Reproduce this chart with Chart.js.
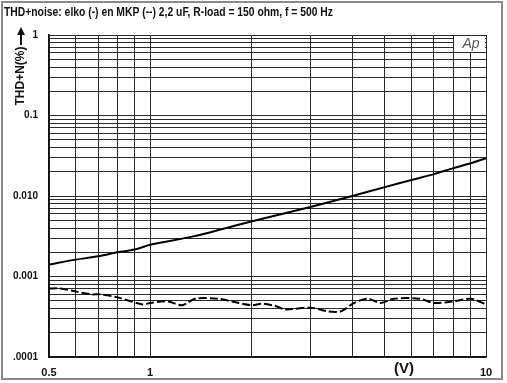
<!DOCTYPE html>
<html><head><meta charset="utf-8">
<script src="https://cdn.jsdelivr.net/npm/chart.js@4"></script>
<style>html,body{margin:0;padding:0;background:#fff}#wrap{width:507px;height:383px;position:relative}</style>
</head><body><div id="wrap"><canvas id="c" width="507" height="383"></canvas></div>
<script>
const titleText = 'THD+noise: elko (-) en MKP (--) 2,2 uF, R-load = 150 ohm, f = 500 Hz';
const yAxisTitle = 'THD+N(%)';
const xAxisTitle = '(V)';
const cornerMark = 'Ap';

// elko (solid)
const elkoVolts = [0.5, 0.6, 0.7, 0.8, 0.9, 1.0, 1.345, 2, 3, 4, 5, 6, 7, 8, 9, 10];
const elkoThd   = [0.00141, 0.00162, 0.00178, 0.00200, 0.00216, 0.00248, 0.00315, 0.00482, 0.00731, 0.0100, 0.0129, 0.0158, 0.0187, 0.0222, 0.0255, 0.0295];

// MKP (dashed)
const mkpVolts = [0.5, 0.54, 0.6, 0.67, 0.71, 0.8, 0.95, 1.0, 1.13, 1.245, 1.364, 1.6, 1.755, 2.0, 2.16, 2.36, 2.53, 3.0, 3.37, 3.7, 4.05, 4.44, 4.86, 5.33, 6.33, 7.0, 8.0, 9.0, 10];
const mkpThd   = [0.00071, 0.00071, 0.00065, 0.0006, 0.0006, 0.00055, 0.00045, 0.00047, 0.00049, 0.00044, 0.00053, 0.00053, 0.00049, 0.00044, 0.00046, 0.00043, 0.00039, 0.00041, 0.00037, 0.00037, 0.00047, 0.00053, 0.00047, 0.00053, 0.00053, 0.00047, 0.00049, 0.00053, 0.00045];

const yTickValues = [1, 0.1, 0.01, 0.001, 0.0001];
const yTickLabels = ['1', '0.1', '0.010', '0.001', '.0001'];
const xTickValues = [0.5, 1, 10];
const xTickLabels = ['0.5', '1', '10'];

const xGrid = [0.5,0.6,0.7,0.8,0.9,1,2,3,4,5,6,7,8,9,10];
const yGrid = [];
for (let e = -4; e < 0; e++) for (let m = 1; m <= 9; m++) yGrid.push(m * Math.pow(10, e));
yGrid.push(1);

function lookup(v, vals, labels) {
  for (let i = 0; i < vals.length; i++) if (Math.abs(Math.log10(v) - Math.log10(vals[i])) < 1e-6) return labels[i];
  return '';
}

const decor = {
  id: 'decor',
  beforeDraw(chart) {
    const ctx = chart.ctx;
    ctx.save();
    ctx.fillStyle = '#fff';
    ctx.fillRect(0, 0, chart.width, chart.height);
    ctx.restore();
  },
  afterDraw(chart) {
    const ctx = chart.ctx, a = chart.chartArea;
    ctx.save();
    // outer frame
    ctx.strokeStyle = '#8a8a8a';
    ctx.lineWidth = 2;
    ctx.strokeRect(2, 2, 500, 377);
    // title
    ctx.fillStyle = '#111';
    ctx.font = 'bold 13px "Liberation Sans Narrow", "Liberation Sans", Arial, sans-serif';
    ctx.textBaseline = 'middle';
    ctx.textAlign = 'left';
    const w = ctx.measureText(titleText).width;
    ctx.save();
    ctx.translate(4, 12);
    ctx.scale(329 / w, 1);
    ctx.fillText(titleText, 0, 0);
    ctx.restore();
    // y axis title
    ctx.save();
    ctx.translate(21, 76);
    ctx.rotate(-Math.PI / 2);
    ctx.font = 'bold 12px "Liberation Sans Narrow", "Liberation Sans", Arial, sans-serif';
    ctx.textAlign = 'center';
    ctx.fillText(yAxisTitle, 0, 0);
    ctx.restore();
    // arrow
    ctx.strokeStyle = '#111';
    ctx.lineWidth = 2;
    ctx.beginPath(); ctx.moveTo(21, 45); ctx.lineTo(21, 33); ctx.stroke();
    ctx.beginPath(); ctx.moveTo(17, 35); ctx.lineTo(25, 35); ctx.lineTo(21, 27); ctx.closePath(); ctx.fill();
    // x axis title
    ctx.font = 'bold 15px "Liberation Sans", Arial, sans-serif';
    ctx.textAlign = 'center';
    ctx.fillText(xAxisTitle, 404, 369);
    // Ap box
    ctx.fillStyle = '#fff';
    ctx.fillRect(454, a.top + 1, a.right - 455, 16);
    ctx.fillStyle = '#555';
    ctx.font = 'italic 14px "Liberation Sans", Arial, sans-serif';
    ctx.textAlign = 'center';
    ctx.fillText(cornerMark, 471, a.top + 9);
    ctx.restore();
  }
};

const gridColor = '#2a2a2a';
new Chart(document.getElementById('c'), {
  type: 'line',
  data: {
    datasets: [
      { label: 'elko', data: elkoVolts.map((v, i) => ({x: v, y: elkoThd[i]})), borderColor: '#000', borderWidth: 2, pointRadius: 0, tension: 0.3, fill: false },
      { label: 'MKP', data: mkpVolts.map((v, i) => ({x: v, y: mkpThd[i]})), borderColor: '#000', borderWidth: 2, borderDash: [8, 3], pointRadius: 0, tension: 0.3, fill: false }
    ]
  },
  options: {
    responsive: false,
    animation: false,
    events: [],
    layout: { padding: { top: 35, right: 21, left: 0, bottom: 0 } },
    plugins: { legend: { display: false }, title: { display: false }, tooltip: { enabled: false } },
    scales: {
      x: {
        type: 'logarithmic', min: 0.5, max: 10,
        afterBuildTicks: s => { s.ticks = xGrid.map(v => ({ value: v })); },
        afterFit: s => { s.height = 26; },
        grid: { color: gridColor, lineWidth: 1, drawTicks: false },
        border: { display: true, color: '#111', width: 1.5 },
        ticks: { autoSkip: false, maxRotation: 0, padding: 9, color: '#111',
          font: { family: '"Liberation Sans", Arial, sans-serif', size: 11, weight: 'bold' },
          callback: v => lookup(v, xTickValues, xTickLabels) }
      },
      y: {
        type: 'logarithmic', min: 0.0001, max: 1,
        afterBuildTicks: s => { s.ticks = yGrid.map(v => ({ value: v })); },
        afterFit: s => { s.width = 49; },
        grid: { color: gridColor, lineWidth: 1, drawTicks: false },
        border: { display: true, color: '#111', width: 1.5 },
        ticks: { autoSkip: false, padding: 11, color: '#111',
          font: { family: '"Liberation Sans", Arial, sans-serif', size: 10, weight: 'bold' },
          callback: v => lookup(v, yTickValues, yTickLabels) }
      }
    }
  },
  plugins: [decor]
});
</script></body></html>
